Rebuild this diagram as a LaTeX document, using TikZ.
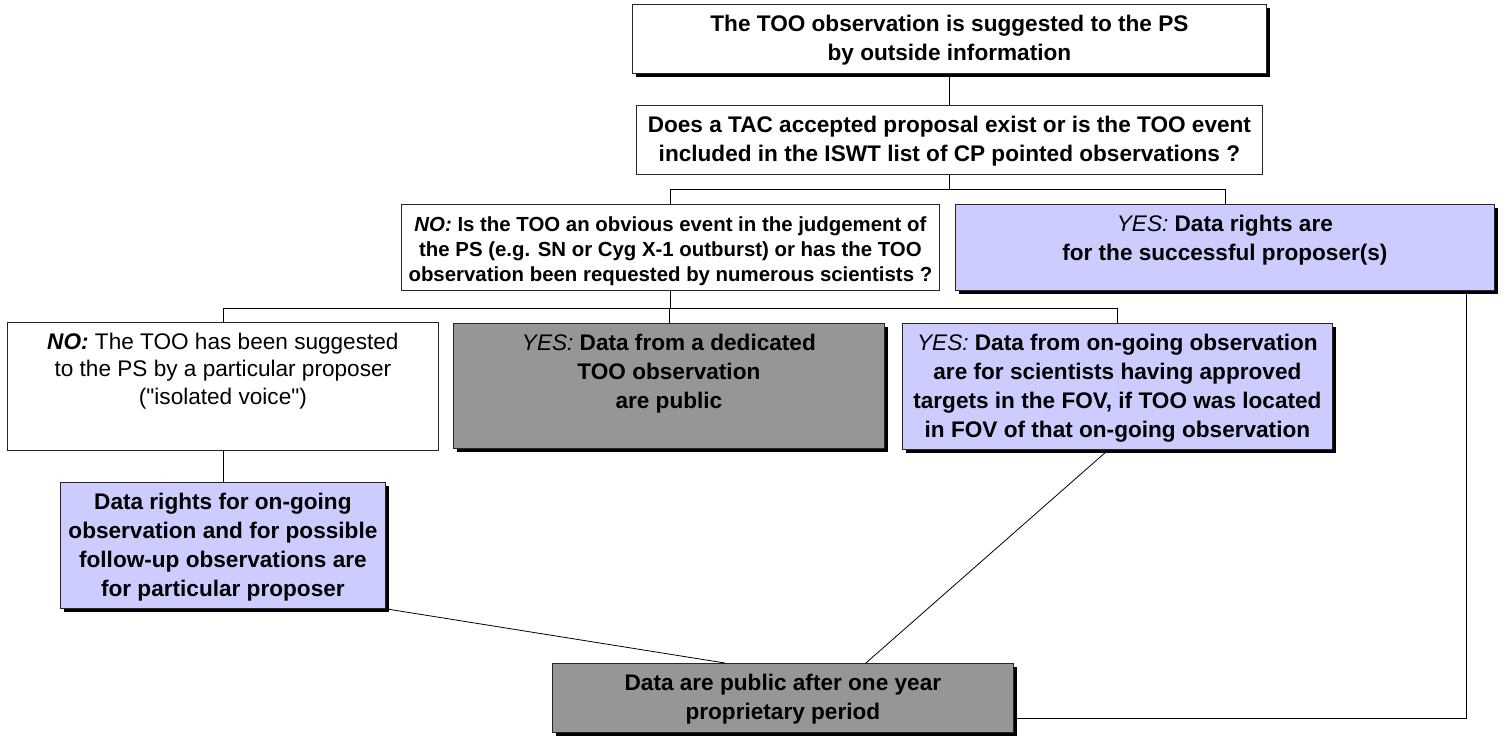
\documentclass[tikz,border=0pt]{standalone}
\usepackage{fontspec}
\setmainfont{Liberation Sans}
\newfontfamily\rawfont{Liberation Sans}
\usepackage{tikz}
\usetikzlibrary{positioning,shadows,calc}
\definecolor{lilac}{RGB}{204,204,255}
\definecolor{ashgrey}{RGB}{150,150,150}
\newcommand{\boxtxt}[3]{\parbox[t][#2][t]{#1}{\centering\rule{0pt}{27pt}#3}}

\begin{document}
\begin{tikzpicture}[x=1pt,y=-1pt,
    box/.style={draw=black!85,line width=0.8pt,inner sep=0pt,anchor=north west,fill=white,
        font=\fontsize{22.6}{29}\selectfont\bfseries},
    lilacbox/.style={box,fill=lilac},
    greybox/.style={box,fill=ashgrey},
    boxshadow/.style={general shadow={fill=black,shadow xshift=4pt,shadow yshift=-4pt}},
    wire/.style={draw=black,line width=0.8pt}]
    \useasboundingbox (0,0) rectangle (1506,736);
    \node[box,boxshadow] (start) at (632,4) {\boxtxt{634pt}{69pt}{The TOO observation is suggested to the PS\\by outside information}};
    \node[box] (tac) at (636,105) {\boxtxt{626pt}{69pt}{Does a TAC accepted proposal exist or is the TOO event\\included in the ISWT list of CP pointed observations ?}};
    \node[box,font=\fontsize{20.4}{25}\selectfont\bfseries] (obvious) at (401,204) {\boxtxt{538pt}{86pt}{\textit{NO:} Is the TOO an obvious event in the judgement of\\the PS (e.g. SN or Cyg X-1 outburst) or has the TOO\\observation been requested by numerous scientists ?}};
    \node[lilacbox,boxshadow] (rights) at (955,204) {\boxtxt{539pt}{86pt}{\textit{\mdseries YES:} Data rights are\\for the successful proposer(s)}};
    \node[box,font=\fontsize{22.6}{27.5}\selectfont] (voice) at (7,322) {\boxtxt{431pt}{128pt}{\textbf{\textit{NO:}} The TOO has been suggested\\to the PS by a particular proposer\\{\rawfont ("isolated voice")}}};
    \node[greybox,boxshadow] (dedicated) at (453,323) {\boxtxt{431pt}{125pt}{\textit{\mdseries YES:} Data from a dedicated\\TOO observation\\are public}};
    \node[lilacbox,boxshadow] (ongoing) at (902,323) {\boxtxt{430pt}{126pt}{\textit{\mdseries YES:} Data from on-going observation\\are for scientists having approved\\targets in the FOV, if TOO was located\\in FOV of that on-going observation}};
    \node[lilacbox,boxshadow] (proposer) at (60,482) {\boxtxt{325pt}{126pt}{Data rights for on-going\\observation and for possible\\follow-up observations are\\for particular proposer}};
    \node[greybox,boxshadow] (public) at (552,663) {\boxtxt{461pt}{69pt}{Data are public after one year\\proprietary period}};
    \coordinate (fork1) at ($(tac.south)+(0,15)$);
    \coordinate (fork2) at ($(obvious.south)+(0,18)$);
    \draw[wire] (start.south) -- (tac.north);
    \draw[wire] (tac.south) -- (fork1);
    \draw[wire] (obvious.north) |- (fork1) -| (rights.north);
    \draw[wire] (obvious.south) -- (fork2);
    \draw[wire] (voice.north) |- (fork2) -| (ongoing.north);
    \draw[wire] (dedicated.north) -- (dedicated.north |- fork2);
    \draw[wire] (voice.south) -- (proposer.north);
    \draw[wire] (proposer.south east) -- ([xshift=-58pt]public.north);
    \draw[wire] ([xshift=-9pt]ongoing.south) -- ([xshift=83pt]public.north);
    \draw[wire] ([xshift=-28pt]rights.south east) |- ([yshift=-20pt]public.east);
\end{tikzpicture}
\end{document}
